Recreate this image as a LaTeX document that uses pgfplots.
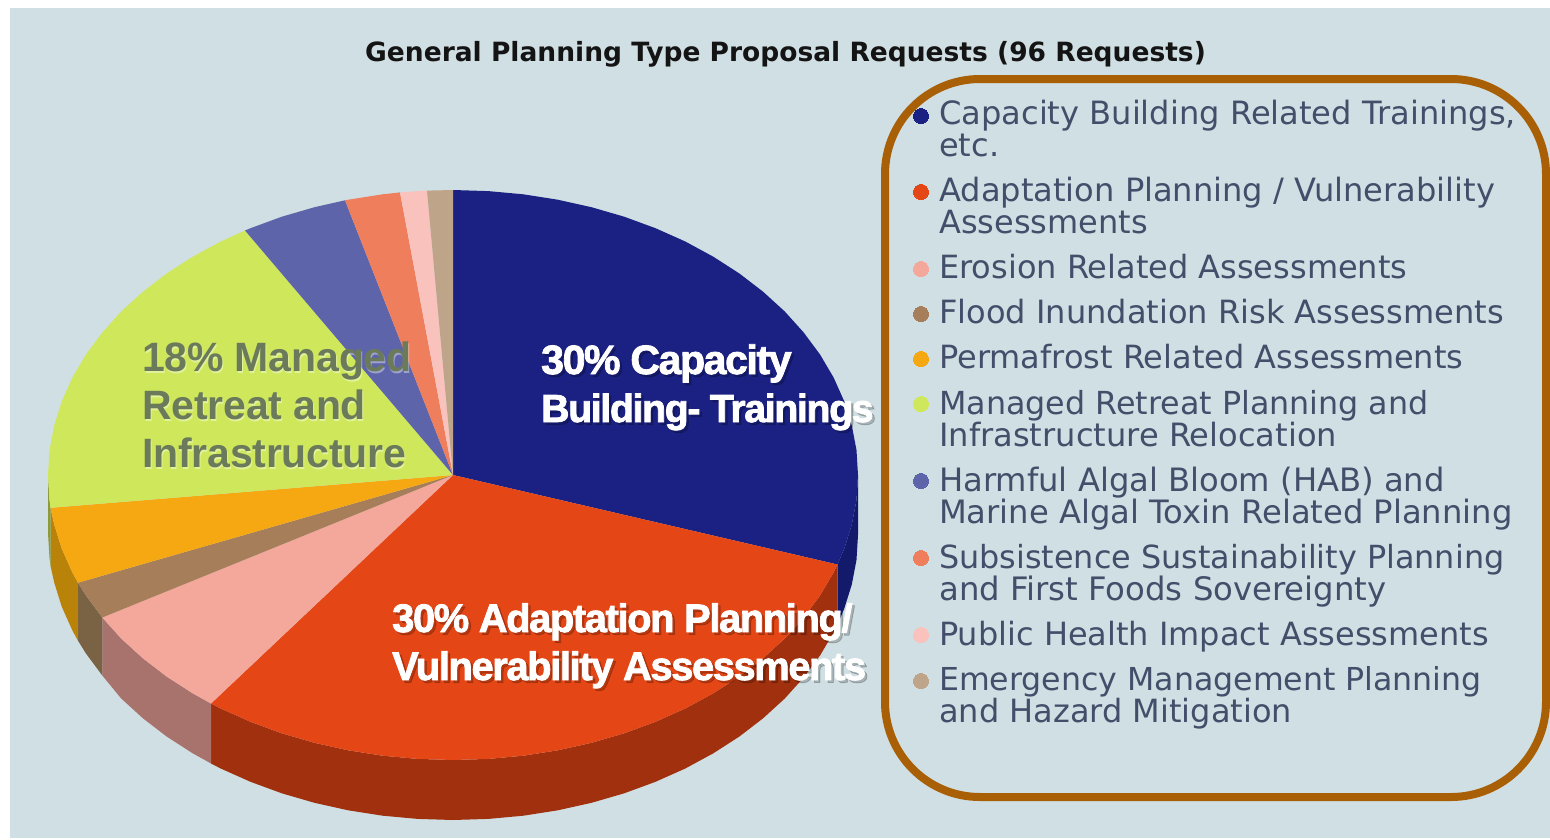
\documentclass[border=0pt]{standalone}
\usepackage{fontspec}
\usepackage{pgfplots}
\pgfplotsset{compat=1.18}
\setmainfont{DejaVu Sans}
\newfontfamily\labf[FakeBold=2,LetterSpace=-3.4]{Liberation Sans Bold}
\newfontfamily\grnf[LetterSpace=-0.5]{Liberation Sans Bold}
\definecolor{bg}{HTML}{D0DFE3}
\definecolor{boxc}{HTML}{A85F05}
\definecolor{legt}{HTML}{434E6A}
\definecolor{cNavy}{HTML}{1B2182}
\definecolor{cRed}{HTML}{E44616}
\definecolor{cPink}{HTML}{F4A79B}
\definecolor{cBrown}{HTML}{A67F5A}
\definecolor{cOrange}{HTML}{F5A811}
\definecolor{cLime}{HTML}{CFE85B}
\definecolor{cBlue}{HTML}{5E64AA}
\definecolor{cCoral}{HTML}{EE7E5C}
\definecolor{cLPink}{HTML}{F9C2BC}
\definecolor{cTan}{HTML}{BEA488}
\definecolor{sNavy}{HTML}{141A6B}
\definecolor{sRed}{HTML}{A0300E}
\definecolor{sPink}{HTML}{A9736D}
\definecolor{sBrown}{HTML}{7A6245}
\definecolor{sOrange}{HTML}{B98208}
\definecolor{sLime}{HTML}{8C9A3A}
\newcommand{\legl}[3]{\node[anchor=base west,inner sep=0pt,text=legt,font=\fontsize{#3}{#3}\selectfont] at (axis cs:939,#1) {#2};}
\newcommand{\wlab}[4]{%
\node[anchor=base west,inner sep=0pt,text=black,opacity=0.2,font=\fontsize{#4}{#4}\selectfont\labf] at (axis cs:#1+2.5,#2+2.5) {#3};
\node[anchor=base west,inner sep=0pt,text=white,font=\fontsize{#4}{#4}\selectfont\labf] at (axis cs:#1,#2) {#3};}
\newcommand{\glab}[3]{%
\node[anchor=base west,inner sep=0pt,text=white,opacity=0.4,font=\fontsize{41}{41}\selectfont\grnf] at (axis cs:#1+1,#2+2) {#3};
\node[anchor=base west,inner sep=0pt,text={rgb,255:red,106;green,122;blue,90},font=\fontsize{41}{41}\selectfont\grnf] at (axis cs:#1,#2) {#3};}
\newcommand{\mk}[3]{\addplot[only marks,color=#1,mark=*,mark size=7.5pt,mark options={draw=#1,fill=#1,line width=0pt}] coordinates {(#2,#3)};}
\begin{document}
\begin{tikzpicture}
\begin{axis}[
  width=1550pt,height=839pt,scale only axis,
  xmin=0,xmax=1550,ymin=0,ymax=839,y dir=reverse,
  axis line style={draw=none},ticks=none,clip=true]
% background
\addplot[fill=bg,draw=none] coordinates {(10,8)(1550,8)(1550,838)(10,838)} --cycle;
% side walls
\addplot[fill=sNavy,draw=none] coordinates {(858,475)(856.5,499.9)(851.8,524.5)(844.2,548.8)(837.5,564.5)(837.5,624.5)(844.2,608.8)(851.8,584.5)(856.5,559.9)(858,535)} --cycle;
\addplot[fill=sRed,draw=none] coordinates {(837.5,564.5)(833.6,572.5)(820.1,595.4)(803.7,617.5)(784.8,638.5)(763.2,658.2)(739.4,676.5)(713.3,693.3)(685.3,708.5)(655.5,721.8)(624.2,733.3)(591.5,742.8)(557.8,750.3)(523.3,755.7)(488.3,758.9)(453,760)(417.7,758.9)(382.7,755.7)(348.2,750.3)(314.5,742.8)(281.8,733.3)(250.5,721.8)(220.7,708.5)(211,703.5)(211,763.5)(220.7,768.5)(250.5,781.8)(281.8,793.3)(314.5,802.8)(348.2,810.3)(382.7,815.7)(417.7,818.9)(453,820)(488.3,818.9)(523.3,815.7)(557.8,810.3)(591.5,802.8)(624.2,793.3)(655.5,781.8)(685.3,768.5)(713.3,753.3)(739.4,736.5)(763.2,718.2)(784.8,698.5)(803.7,677.5)(820.1,655.4)(833.6,632.5)(837.5,624.5)} --cycle;
\addplot[fill=sPink,draw=none] coordinates {(211,703.5)(192.7,693.3)(166.6,676.5)(142.8,658.2)(121.2,638.5)(102.3,617.5)(102.3,675.5)(121.2,698.5)(142.8,718.2)(166.6,736.5)(192.7,753.3)(211,763.5)} --cycle;
\addplot[fill=sBrown,draw=none] coordinates {(102.3,617.5)(85.9,595.4)(78,582.7)(78,640.7)(85.9,653.4)(102.3,675.5)} --cycle;
\addplot[fill=sOrange,draw=none] coordinates {(78,582.7)(72.4,572.5)(61.8,548.8)(54.2,524.5)(50.5,507.8)(50.5,565.8)(54.2,582.5)(61.8,606.8)(72.4,630.5)(78,640.7)} --cycle;
\addplot[fill=sLime,draw=none] coordinates {(50.5,507.8)(49.5,499.9)(48,475)(48,533)(49.5,557.9)(50.5,565.8)} --cycle;
% top faces
\addplot[fill=cNavy,draw=none] coordinates {(453,475)(453,190)(488.3,191.1)(523.3,194.3)(557.8,199.7)(591.5,207.2)(624.2,216.7)(655.5,228.2)(685.3,241.5)(713.3,256.7)(739.4,273.5)(763.2,291.8)(784.8,311.5)(803.7,332.5)(820.1,354.6)(833.6,377.5)(844.2,401.2)(851.8,425.5)(856.5,450.1)(858,475)(856.5,499.9)(851.8,524.5)(844.2,548.8)(837.5,564.5)} --cycle;
\addplot[fill=cRed,draw=none] coordinates {(453,475)(837.5,564.5)(833.6,572.5)(820.1,595.4)(803.7,617.5)(784.8,638.5)(763.2,658.2)(739.4,676.5)(713.3,693.3)(685.3,708.5)(655.5,721.8)(624.2,733.3)(591.5,742.8)(557.8,750.3)(523.3,755.7)(488.3,758.9)(453,760)(417.7,758.9)(382.7,755.7)(348.2,750.3)(314.5,742.8)(281.8,733.3)(250.5,721.8)(220.7,708.5)(211,703.5)} --cycle;
\addplot[fill=cPink,draw=none] coordinates {(453,475)(211,703.5)(192.7,693.3)(166.6,676.5)(142.8,658.2)(121.2,638.5)(102.3,617.5)} --cycle;
\addplot[fill=cBrown,draw=none] coordinates {(453,475)(102.3,617.5)(85.9,595.4)(78,582.7)} --cycle;
\addplot[fill=cOrange,draw=none] coordinates {(453,475)(78,582.7)(72.4,572.5)(61.8,548.8)(54.2,524.5)(50.5,507.8)} --cycle;
\addplot[fill=cLime,draw=none] coordinates {(453,475)(50.5,507.8)(49.5,499.9)(48,475)(49.5,450.1)(54.2,425.5)(61.8,401.2)(72.4,377.5)(85.9,354.6)(102.3,332.5)(121.2,311.5)(142.8,291.8)(166.6,273.5)(192.7,256.7)(220.7,241.5)(245,230.5)} --cycle;
\addplot[fill=cBlue,draw=none] coordinates {(453,475)(245,230.5)(250.5,228.2)(281.8,216.7)(314.5,207.2)(345,200.3)} --cycle;
\addplot[fill=cCoral,draw=none] coordinates {(453,475)(345,200.3)(348.2,199.7)(382.7,194.3)(400,192.4)} --cycle;
\addplot[fill=cLPink,draw=none] coordinates {(453,475)(400,192.4)(417.7,191.1)(427,190.6)} --cycle;
\addplot[fill=cTan,draw=none] coordinates {(453,475)(427,190.6)(453,190)} --cycle;
% legend box
\draw[boxc,line width=8pt,rounded corners=95pt] (axis cs:885,79) rectangle (axis cs:1546,797);
% legend markers
\mk{cNavy}{921}{116}
\mk{cRed}{921}{192}
\mk{cPink}{921}{269}
\mk{cBrown}{921}{314}
\mk{cOrange}{921}{359}
\mk{cLime}{921}{404}
\mk{cBlue}{921}{481}
\mk{cCoral}{921}{558}
\mk{cLPink}{921}{635}
\mk{cTan}{921}{681}
% title
\node[anchor=base west,inner sep=0pt,text=black!92,font=\fontsize{26.5}{26.5}\selectfont\bfseries] at (axis cs:365,61) {General Planning Type Proposal Requests (96 Requests)};
% legend text
\legl{124.5}{Capacity Building Related Trainings,}{32.1}
\legl{156.5}{etc.}{32}
\legl{201.5}{Adaptation Planning / Vulnerability}{32.1}
\legl{233.5}{Assessments}{32}
\legl{278.5}{Erosion Related Assessments}{32}
\legl{323.5}{Flood Inundation Risk Assessments}{32.05}
\legl{368.5}{Permafrost Related Assessments}{32}
\legl{414}{Managed Retreat Planning and}{31.75}
\legl{446}{Infrastructure Relocation}{32.1}
\legl{491}{Harmful Algal Bloom (HAB) and}{32.2}
\legl{523}{Marine Algal Toxin Related Planning}{32.2}
\legl{568}{Subsistence Sustainability Planning}{31.85}
\legl{600}{and First Foods Sovereignty}{32.3}
\legl{645}{Public Health Impact Assessments}{32}
\legl{690.5}{Emergency Management Planning}{31.6}
\legl{722}{and Hazard Mitigation}{32}
% slice labels
\wlab{541}{374}{30\% Capacity}{41}
\wlab{541}{422}{Building- Trainings}{39.2}
\wlab{392}{632}{30\% Adaptation Planning/}{39.8}
\wlab{392}{680}{Vulnerability Assessments}{39.8}
\glab{142}{371.5}{18\% Managed}
\glab{142}{419.5}{Retreat and}
\glab{142}{467.5}{Infrastructure}
\end{axis}
\end{tikzpicture}
\end{document}
